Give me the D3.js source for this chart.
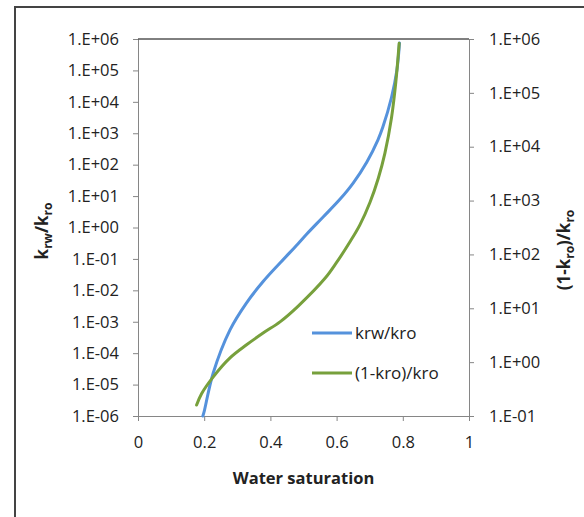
<!DOCTYPE html>
<html>
<head>
<meta charset="utf-8">
<script src="https://cdn.jsdelivr.net/npm/d3@7"></script>
<style>
  body { margin: 0; background: #fff; }
  svg text { font-family: "Open Sans", sans-serif; fill: #222; }
  .axis path, .axis line { stroke: #868686; }
</style>
</head>
<body>
<svg id="chart" width="584" height="517"></svg>
<script>
// water saturation (x) for each series
const swKrw = [0.196, 0.200, 0.227, 0.278, 0.328, 0.378, 0.429, 0.483, 0.510, 0.560, 0.610, 0.650, 0.691, 0.725, 0.740, 0.766, 0.782, 0.790];
const krwKro = [1.0e-6, 1.4e-6, 2.3e-5, 5.5e-4, 4.0e-3, 1.9e-2, 7.4e-2, 3.0e-1, 6.2e-1, 2.2e0, 7.9e0, 2.6e1, 1.2e2, 6.2e2, 1.6e3, 1.4e4, 1.0e5, 7.4e5];

const swOil = [0.177, 0.192, 0.228, 0.278, 0.328, 0.379, 0.429, 0.484, 0.565, 0.600, 0.640, 0.670, 0.701, 0.726, 0.746, 0.766, 0.779, 0.789];
const oneMinusKroKro = [1.6e-1, 2.6e-1, 5.4e-1, 1.2e0, 2.1e0, 3.5e0, 5.6e0, 1.1e1, 3.6e1, 7.1e1, 1.7e2, 3.5e2, 9.3e2, 2.6e3, 7.6e3, 3.5e4, 1.6e5, 8.3e5];

// axis ticks
const xTicks = [0, 0.2, 0.4, 0.6, 0.8, 1];
const xTickLabels = ["0", "0.2", "0.4", "0.6", "0.8", "1"];
const leftTicks = [1e-6, 1e-5, 1e-4, 1e-3, 1e-2, 1e-1, 1e0, 1e1, 1e2, 1e3, 1e4, 1e5, 1e6];
const leftTickLabels = ["1.E-06", "1.E-05", "1.E-04", "1.E-03", "1.E-02", "1.E-01", "1.E+00", "1.E+01", "1.E+02", "1.E+03", "1.E+04", "1.E+05", "1.E+06"];
const rightTicks = [1e-1, 1e0, 1e1, 1e2, 1e3, 1e4, 1e5, 1e6];
const rightTickLabels = ["1.E-01", "1.E+00", "1.E+01", "1.E+02", "1.E+03", "1.E+04", "1.E+05", "1.E+06"];

const seriesNames = ["krw/kro", "(1-kro)/kro"];
const colors = ["#5592dc", "#77a03c"];

const svg = d3.select("#chart");

// plot area
const plot = { left: 138, top: 39, right: 469, bottom: 416 };

const x = d3.scaleLinear().domain([0, 1]).range([plot.left, plot.right]);
const yLeft = d3.scaleLog().domain([1e-6, 1e6]).range([plot.bottom, plot.top]);
const yRight = d3.scaleLog().domain([1e-1, 1e6]).range([plot.bottom, plot.top]);

//outer chart border
svg.append("path")
    .attr("d", `M15,517 V7 H584`)
    .attr("fill", "none")
    .attr("stroke", "#444")
    .attr("stroke-width", 2);

//Axes
svg.append("g").attr("class", "axis")
    .attr("transform", `translate(${plot.left},0)`)
    .call(d3.axisLeft(yLeft).tickValues(leftTicks)
        .tickFormat((d, i) => leftTickLabels[i])
        .tickSize(5).tickSizeOuter(0).tickPadding(14))
    .selectAll("text").style("font-size", "16.5px").attr("fill", "#222");

svg.append("g").attr("class", "axis")
    .attr("transform", `translate(${plot.right},0)`)
    .call(d3.axisRight(yRight).tickValues(rightTicks)
        .tickFormat((d, i) => rightTickLabels[i])
        .tickSize(5).tickSizeOuter(0).tickPadding(15))
    .selectAll("text").style("font-size", "16.5px").attr("fill", "#222");

svg.append("g").attr("class", "axis")
    .attr("transform", `translate(0,${plot.bottom})`)
    .call(d3.axisBottom(x).tickValues(xTicks)
        .tickFormat((d, i) => xTickLabels[i])
        .tickSize(5).tickSizeOuter(0).tickPadding(15))
    .selectAll("text").style("font-size", "16.5px").attr("fill", "#222");

// black top edge of the plot area
svg.append("line")
    .attr("x1", plot.left).attr("x2", plot.right)
    .attr("y1", plot.top).attr("y2", plot.top)
    .attr("stroke", "#000").attr("stroke-width", 1);

//Axis titles
svg.append("text")
    .attr("x", x(0.5)).attr("y", 484)
    .attr("text-anchor", "middle")
    .style("font-size", "16.5px").style("font-weight", "bold")
    .text("Water saturation");

const leftTitle = svg.append("text")
    .attr("transform", `translate(48,231) rotate(-90)`)
    .attr("text-anchor", "middle")
    .style("font-size", "17px").style("font-weight", "bold");
leftTitle.append("tspan").text("k");
leftTitle.append("tspan").attr("dy", 4).style("font-size", "12px").text("rw");
leftTitle.append("tspan").attr("dy", -4).text("/k");
leftTitle.append("tspan").attr("dy", 4).style("font-size", "12px").text("ro");

const rightTitle = svg.append("text")
    .attr("transform", `translate(570,250) rotate(-90)`)
    .attr("text-anchor", "middle")
    .style("font-size", "17px").style("font-weight", "bold");
rightTitle.append("tspan").text("(1-k");
rightTitle.append("tspan").attr("dy", 4).style("font-size", "12px").text("ro");
rightTitle.append("tspan").attr("dy", -4).text(")/k");
rightTitle.append("tspan").attr("dy", 4).style("font-size", "12px").text("ro");

//Lines
const lineLeft = d3.line()
    .x(d => x(d[0])).y(d => yLeft(d[1]))
    .curve(d3.curveCatmullRom.alpha(0.5));
const lineRight = d3.line()
    .x(d => x(d[0])).y(d => yRight(d[1]))
    .curve(d3.curveCatmullRom.alpha(0.5));

svg.append("path")
    .datum(d3.zip(swKrw, krwKro))
    .attr("d", lineLeft)
    .attr("fill", "none")
    .attr("stroke", colors[0])
    .attr("stroke-width", 3)
    .attr("stroke-linecap", "round");

svg.append("path")
    .datum(d3.zip(swOil, oneMinusKroKro))
    .attr("d", lineRight)
    .attr("fill", "none")
    .attr("stroke", colors[1])
    .attr("stroke-width", 3)
    .attr("stroke-linecap", "round");

//Legend
const legend = svg.append("g").attr("transform", "translate(312,333)");
seriesNames.forEach((name, i) => {
    const row = legend.append("g").attr("transform", `translate(0,${i * 40})`);
    row.append("line")
        .attr("x1", 0).attr("x2", 40)
        .attr("stroke", colors[i]).attr("stroke-width", 3);
    row.append("text")
        .attr("x", 43).attr("dy", "0.35em")
        .style("font-size", "17px")
        .text(name);
});
</script>
</body>
</html>
